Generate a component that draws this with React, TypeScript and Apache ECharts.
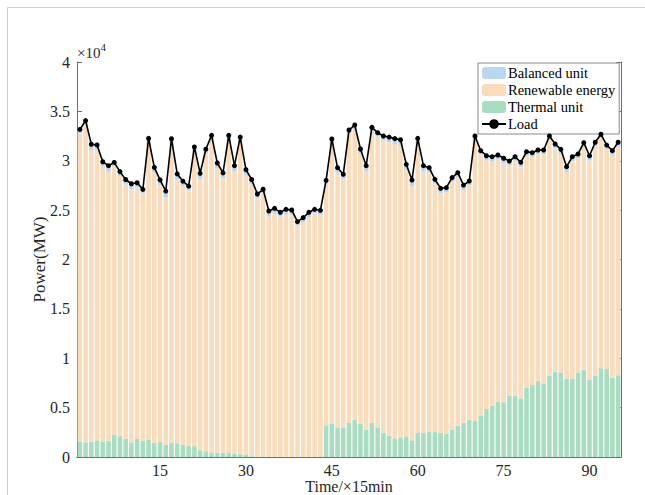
import React, { useEffect, useRef } from "react";
import * as echarts from "echarts";

const categories = [
  "1","2","3","4","5","6","7","8","9","10","11","12","13","14","15","16","17","18","19","20",
  "21","22","23","24","25","26","27","28","29","30","31","32","33","34","35","36","37","38","39","40",
  "41","42","43","44","45","46","47","48","49","50","51","52","53","54","55","56","57","58","59","60",
  "61","62","63","64","65","66","67","68","69","70","71","72","73","74","75","76","77","78","79","80",
  "81","82","83","84","85","86","87","88","89","90","91","92","93","94","95"
];

const xTickLabels = ["15", "30", "45", "60", "75", "90"];
const yTickLabels = ["0", "0.5", "1", "1.5", "2", "2.5", "3", "3.5", "4"];

const loadValues = [
  33170, 34070, 31670, 31600, 29900, 29500, 29830, 28900, 28100, 27670,
  27770, 27100, 32270, 29330, 28070, 26930, 32230, 28670, 27930, 27430,
  31400, 28730, 31170, 32570, 29770, 28770, 32570, 29500, 32400, 29100,
  28100, 26630, 27110, 24910, 25180, 24780, 25080, 25010, 23830, 24240,
  24780, 25080, 24980, 28020, 32200, 29300, 28630, 33110, 33620, 31190,
  29500, 33380, 32840, 32510, 32400, 32240, 32130, 29640, 28050, 32270,
  29500, 29300, 28120, 27210, 27270, 28290, 28790, 27540, 27950, 32510,
  31020, 30510, 30410, 30580, 30250, 29970, 30410, 29840, 30920, 30820,
  31090, 31090, 32510, 31700, 31160, 29400, 30410, 30680, 31830, 30510,
  31870, 32680, 31590, 31020, 31870
];

const thermalValues = [
  1550, 1480, 1550, 1690, 1520, 1660, 2280, 2100, 1830, 1480,
  1830, 1660, 1790, 1410, 1520, 1240, 1410, 1380, 1210, 1100,
  1100, 690, 590, 450, 450, 450, 410, 350, 280, 240,
  80, 0, 0, 0, 0, 0, 0, 0, 0, 0,
  0, 0, 0, 3210, 3350, 2930, 2970, 3450, 3760, 3380,
  2760, 3450, 3000, 2480, 2170, 1830, 1930, 2100, 1690, 2450,
  2480, 2590, 2520, 2450, 2380, 2790, 3170, 3480, 3760, 3690,
  4140, 4860, 5210, 5620, 5550, 6180, 6180, 5930, 7000, 7280,
  7690, 7450, 8210, 8630, 8560, 7940, 7940, 8560, 8800, 7800,
  8210, 9000, 8900, 8040, 8280
];

const renewableValues = [
  31220, 32240, 29520, 29410, 27930, 27290, 27150, 26350, 25770, 25640,
  25490, 25040, 30130, 27420, 26000, 25090, 30420, 26740, 26220, 25880,
  29900, 27490, 30130, 31770, 28820, 27770, 31760, 28550, 31720, 28260,
  27520, 26180, 26710, 24410, 24630, 24330, 24580, 24560, 23430, 23790,
  24280, 24680, 24530, 24460, 28450, 25870, 25210, 29310, 29460, 27360,
  26140, 29580, 29440, 29580, 29730, 29860, 29600, 26990, 25760, 29420,
  26470, 26210, 25150, 24260, 24440, 25100, 25170, 23560, 23740, 28470,
  26480, 25200, 24700, 24510, 24200, 23340, 23830, 23410, 23470, 23140,
  22950, 23240, 23950, 22620, 22100, 20910, 22020, 21720, 22580, 22210,
  23260, 23330, 22240, 22480, 23140
];

const balancedValues = [
  400, 350, 600, 500, 450, 550, 400, 450, 500, 550,
  450, 400, 350, 500, 550, 600, 400, 550, 500, 450,
  400, 550, 450, 350, 500, 550, 400, 600, 400, 600,
  500, 450, 400, 500, 550, 450, 500, 450, 400, 450,
  500, 400, 450, 350, 400, 500, 450, 350, 400, 450,
  600, 350, 400, 450, 500, 550, 600, 550, 600, 400,
  550, 500, 450, 500, 450, 400, 450, 500, 450, 350,
  400, 450, 500, 450, 500, 450, 400, 500, 450, 400,
  450, 400, 350, 450, 500, 550, 450, 400, 450, 500,
  400, 350, 450, 500, 450
];

const FONT = "'Liberation Serif', 'Times New Roman', serif";
const AXIS_COLOR = "#6e6e6e";
const TEXT_COLOR = "#262626";

export default function App() {
  const ref = useRef<HTMLDivElement>(null);

  useEffect(() => {
    if (!ref.current) return;
    const chart = echarts.init(ref.current, null, { renderer: "svg" });
    const tickShown = (idx: number) => xTickLabels.includes(categories[idx]);

    const option: any = {
      animation: false,
      backgroundColor: "#ffffff",
      textStyle: { fontFamily: FONT },
      grid: { left: 77, top: 62, width: 544, height: 395, outerBoundsMode: "none", containLabel: false },
      legend: {
        orient: "vertical",
        left: 478,
        top: 63,
        data: ["Balanced unit", "Renewable energy", "Thermal unit", "Load"],
        itemWidth: 24,
        itemHeight: 12,
        itemGap: 1,
        padding: [2, 4, 2, 3],
        borderColor: "#8a8a8a",
        borderWidth: 1,
        backgroundColor: "#ffffff",
        textStyle: { fontFamily: FONT, fontSize: 14.5, color: "#000", lineHeight: 16, padding: [0, 0, 0, -3] },
      },
      xAxis: [
        {
          type: "category",
          data: categories,
          boundaryGap: true,
          name: "Time/×15min",
          nameLocation: "middle",
          nameGap: 21,
          nameMoveOverlap: false,
          nameTextStyle: { fontFamily: FONT, fontSize: 16, color: TEXT_COLOR },
          axisLine: { lineStyle: { color: AXIS_COLOR, width: 1 } },
          axisTick: { inside: true, length: 5, alignWithLabel: true, interval: tickShown, lineStyle: { color: AXIS_COLOR } },
          axisLabel: { interval: tickShown, fontFamily: FONT, fontSize: 16, color: TEXT_COLOR, margin: 5 },
          splitLine: { show: false },
        },
        {
          type: "category",
          data: categories,
          position: "top",
          boundaryGap: true,
          axisLine: { show: true, lineStyle: { color: AXIS_COLOR, width: 1 } },
          axisTick: { inside: true, length: 5, alignWithLabel: true, interval: tickShown, lineStyle: { color: AXIS_COLOR } },
          axisLabel: { show: false },
        },
      ],
      yAxis: [
        {
          type: "value",
          min: 0,
          max: 40000,
          interval: 5000,
          name: "Power(MW)",
          nameLocation: "middle",
          nameGap: 29,
          nameMoveOverlap: false,
          nameTextStyle: { fontFamily: FONT, fontSize: 17, color: TEXT_COLOR },
          axisLine: { show: true, lineStyle: { color: AXIS_COLOR, width: 1 } },
          axisTick: { show: true, inside: true, length: 5, lineStyle: { color: AXIS_COLOR } },
          axisLabel: {
            fontFamily: FONT,
            fontSize: 16,
            color: TEXT_COLOR,
            margin: 7,
            formatter: (v: number) => yTickLabels[Math.round(v / 5000)],
          },
          splitLine: { show: false },
        },
        {
          type: "value",
          min: 0,
          max: 40000,
          interval: 5000,
          position: "right",
          axisLine: { show: true, lineStyle: { color: AXIS_COLOR, width: 1 } },
          axisTick: { show: true, inside: true, length: 5, lineStyle: { color: AXIS_COLOR } },
          axisLabel: { show: false },
          splitLine: { show: false },
        },
      ],
      series: [
        {
          name: "Thermal unit",
          type: "bar",
          stack: "total",
          barWidth: "80%",
          data: thermalValues,
          itemStyle: { color: "#a9dcc1" },
          clip: true,
        },
        {
          name: "Renewable energy",
          type: "bar",
          stack: "total",
          barWidth: "80%",
          data: renewableValues,
          itemStyle: { color: "#f8dcbc" },
          clip: true,
        },
        {
          name: "Balanced unit",
          type: "bar",
          stack: "total",
          barWidth: "80%",
          data: balancedValues,
          itemStyle: { color: "#b9d7f1" },
          clip: true,
        },
        {
          name: "Load",
          type: "line",
          data: loadValues,
          symbol: "circle",
          symbolSize: 5,
          showAllSymbol: true,
          itemStyle: { color: "#000000" },
          lineStyle: { color: "#000000", width: 1.6 },
          z: 5,
        },
      ],
      graphic: [
        {
          type: "line",
          shape: { x1: 7.5, y1: 7.5, x2: 645, y2: 7.5 },
          style: { stroke: "#cfcfcf", lineWidth: 1 },
          silent: true,
        },
        {
          type: "line",
          shape: { x1: 7.5, y1: 7.5, x2: 7.5, y2: 495 },
          style: { stroke: "#cfcfcf", lineWidth: 1 },
          silent: true,
        },
        {
          type: "text",
          left: 77,
          top: 41,
          style: {
            text: "{a|×10}{b|4}",
            rich: {
              a: { fontFamily: FONT, fontSize: 15, fill: TEXT_COLOR, verticalAlign: "bottom" },
              b: { fontFamily: FONT, fontSize: 11, fill: TEXT_COLOR, verticalAlign: "top", padding: [0, 0, 8, 0] },
            },
          },
          silent: true,
        },
      ],
    };

    chart.setOption(option);
    return () => chart.dispose();
  }, []);

  return (
    <div
      ref={ref}
      style={{ position: "fixed", left: 0, top: 0, width: 645, height: 495, background: "#fff" }}
    />
  );
}
